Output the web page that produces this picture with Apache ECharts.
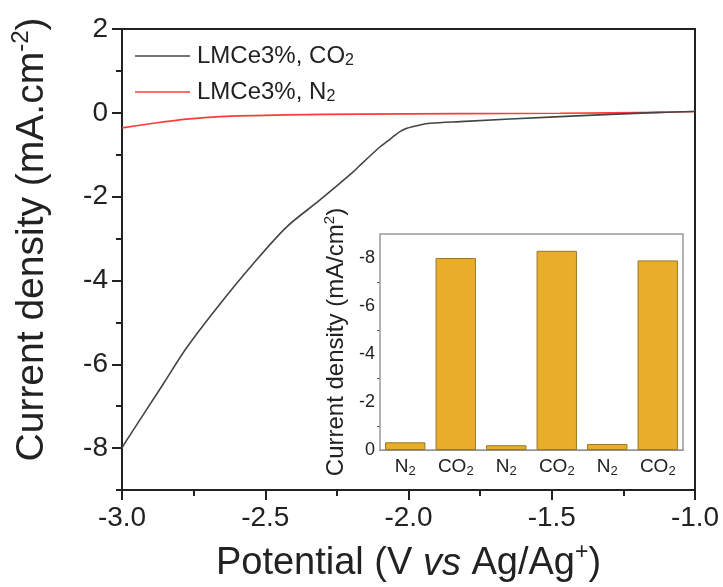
<!DOCTYPE html>
<html><head><meta charset="utf-8">
<script src="https://cdn.jsdelivr.net/npm/echarts@6/dist/echarts.min.js"></script>
<style>html,body{margin:0;padding:0;background:#fff}#c{width:723px;height:587px}</style>
</head><body><div id="c"></div>
<script>
// Main LSV curves: [potential (V vs Ag/Ag+), current density (mA/cm2)]
const co2Curve = [[-3.0,-8.0],[-2.993,-7.91],[-2.856,-6.47],[-2.774,-5.60],[-2.658,-4.56],[-2.542,-3.60],[-2.425,-2.72],[-2.309,-2.08],[-2.193,-1.41],[-2.169,-1.25],[-2.099,-0.81],[-2.076,-0.69],[-2.03,-0.45],[-2.006,-0.37],[-1.96,-0.29],[-1.925,-0.25],[-1.82,-0.21],[-1.471,-0.09],[-1.122,0.01],[-1.0,0.03]];
const n2Curve = [[-3.0,-0.36],[-2.89,-0.25],[-2.774,-0.15],[-2.658,-0.09],[-2.425,-0.05],[-2.169,-0.03],[-1.82,-0.02],[-1.47,-0.01],[-1.12,0.01],[-1.0,0.03]];
const seriesNames = ['LMCe3%, CO2','LMCe3%, N2'];
// Inset bars
const insetCategories = ['N2','CO2','N2','CO2','N2','CO2'];
const insetValues = [-0.32,-8.0,-0.2,-8.3,-0.25,-7.9];
// Tick labels
const mainYLabels = [-8,-6,-4,-2,0,2];
const mainYMinor = [-9,-7,-5,-3,-1,1];
const insetYLabels = [0,-2,-4,-6,-8];
const insetYMinor = [-1,-3,-5,-7];

const FONT = '"Liberation Sans", Arial, sans-serif';
const chart = echarts.init(document.getElementById('c'), null, {renderer:'canvas'});

function subLabel(s, cls){
  const m = s.match(/^(.*?)(\d)$/);
  if (!m) return '{' + cls + '|' + s + '}';
  return '{' + cls + '|' + m[1] + '}{' + cls + 's|' + m[2] + '}';
}

chart.setOption({
  animation:false,
  textStyle:{fontFamily:FONT},
  grid:[
    {left:122, top:29, right:28, bottom:97, show:true, borderColor:'#222', borderWidth:2, outerBoundsMode:'none', containLabel:false},
    {left:380, top:234, width:303, bottom:137, show:true, borderColor:'#999', borderWidth:1.5, backgroundColor:'#fff', z:10, outerBoundsMode:'none', containLabel:false}
  ],
  legend:{
    data:seriesNames.map(n=>({name:n, icon:'rect'})), orient:'vertical', left:130, top:39, itemGap:11,
    itemWidth:55, itemHeight:1.6,
    formatter: n => subLabel(n,'l'),
    textStyle:{
      padding:[0,0,0,2],
      rich:{
        l:{fontSize:24, color:'#222', fontFamily:FONT, lineHeight:26, verticalAlign:'middle'},
        ls:{fontSize:16, color:'#222', fontFamily:FONT, lineHeight:10, verticalAlign:'bottom'}
      }
    }
  },
  xAxis:[
    {type:'value', gridIndex:0, min:-3, max:-1, interval:0.5,
     name:'{a|Potential (V }{i|vs}{a| Ag/Ag}{s|+}{a|)}', nameLocation:'middle', nameGap:51,
     nameTextStyle:{rich:{
       a:{fontSize:38, color:'#222', fontFamily:FONT, lineHeight:46},
       i:{fontSize:38, color:'#222', fontFamily:FONT, fontStyle:'italic', lineHeight:46},
       s:{fontSize:23, color:'#222', fontFamily:FONT, verticalAlign:'top', padding:[0,0,18,0]}
     }},
     axisLine:{onZero:false, lineStyle:{color:'#222', width:2}},
     axisTick:{inside:false, length:10, lineStyle:{color:'#222', width:2}},
     minorTick:{show:true, splitNumber:2, length:6, lineStyle:{color:'#222', width:2}},
     splitLine:{show:false},
     axisLabel:{fontSize:28, color:'#222', margin:14, fontFamily:FONT, formatter:v=>v.toFixed(1)}
    },
    {type:'category', gridIndex:1, data:insetCategories,
     axisLine:{lineStyle:{color:'#555', width:1.5}},
     axisTick:{alignWithLabel:true, length:4, lineStyle:{color:'#555'}},
     axisLabel:{margin:6, interval:0, formatter: v => subLabel(v,'c'),
       rich:{
         c:{fontSize:19, color:'#222', fontFamily:FONT, lineHeight:22, verticalAlign:'middle'},
         cs:{fontSize:13, color:'#222', fontFamily:FONT, lineHeight:8, verticalAlign:'bottom'}
       }}
    }
  ],
  yAxis:[
    {type:'value', gridIndex:0, min:-9, max:2,
     name:'{a|Current density (mA.cm}{s|-2}{a|)}', nameLocation:'middle', nameGap:67, nameRotate:90,
     nameTextStyle:{padding:[0,0,0,40], rich:{
       a:{fontSize:39, color:'#222', fontFamily:FONT, lineHeight:46},
       s:{fontSize:24, color:'#222', fontFamily:FONT, verticalAlign:'top', padding:[0,0,18,0]}
     }},
     axisLine:{onZero:false, lineStyle:{color:'#222', width:2}},
     axisTick:{length:10, customValues:mainYLabels, lineStyle:{color:'#222', width:2}},
     splitLine:{show:false},
     axisLabel:{fontSize:28, color:'#222', margin:14, fontFamily:FONT, customValues:mainYLabels}
    },
    {type:'value', gridIndex:0, min:-9, max:2, position:'left',
     axisLine:{show:false},
     axisTick:{show:true, length:6, customValues:mainYMinor, lineStyle:{color:'#222', width:2}},
     axisLabel:{show:false}, splitLine:{show:false}
    },
    {type:'value', gridIndex:1, min:-9, max:0, inverse:true,
     name:'{a|Current density (mA/cm}{s|2}{a|)}', nameLocation:'middle', nameGap:30, nameRotate:90,
     nameTextStyle:{rich:{
       a:{fontSize:24, color:'#222', fontFamily:FONT, lineHeight:28},
       s:{fontSize:15, color:'#222', fontFamily:FONT, verticalAlign:'top', padding:[0,0,10,0]}
     }},
     axisLine:{onZero:false, lineStyle:{color:'#555', width:1.5}},
     axisTick:{length:5, customValues:insetYLabels, lineStyle:{color:'#555'}},
     splitLine:{show:false},
     axisLabel:{fontSize:18, color:'#222', margin:5, fontFamily:FONT, customValues:insetYLabels}
    },
    {type:'value', gridIndex:1, min:-9, max:0, inverse:true, position:'left',
     axisLine:{show:false},
     axisTick:{show:true, length:3, customValues:insetYMinor, lineStyle:{color:'#555'}},
     axisLabel:{show:false}, splitLine:{show:false}
    }
  ],
  series:[
    {name:seriesNames[0], type:'line', xAxisIndex:0, yAxisIndex:0, data:co2Curve, symbol:'none', smooth:0.3,
     lineStyle:{color:'#444', width:1.6}, itemStyle:{color:'#444'}, z:3},
    {name:seriesNames[1], type:'line', xAxisIndex:0, yAxisIndex:0, data:n2Curve, symbol:'none', smooth:0.3,
     lineStyle:{color:'#ff3b3b', width:1.6}, itemStyle:{color:'#ff3b3b'}, z:2},
    {type:'bar', xAxisIndex:1, yAxisIndex:2, data:insetValues, barWidth:'80%',
     itemStyle:{color:'#E8AD2A', borderColor:'#9a7a2a', borderWidth:1}, z:11}
  ]
});
</script></body></html>
